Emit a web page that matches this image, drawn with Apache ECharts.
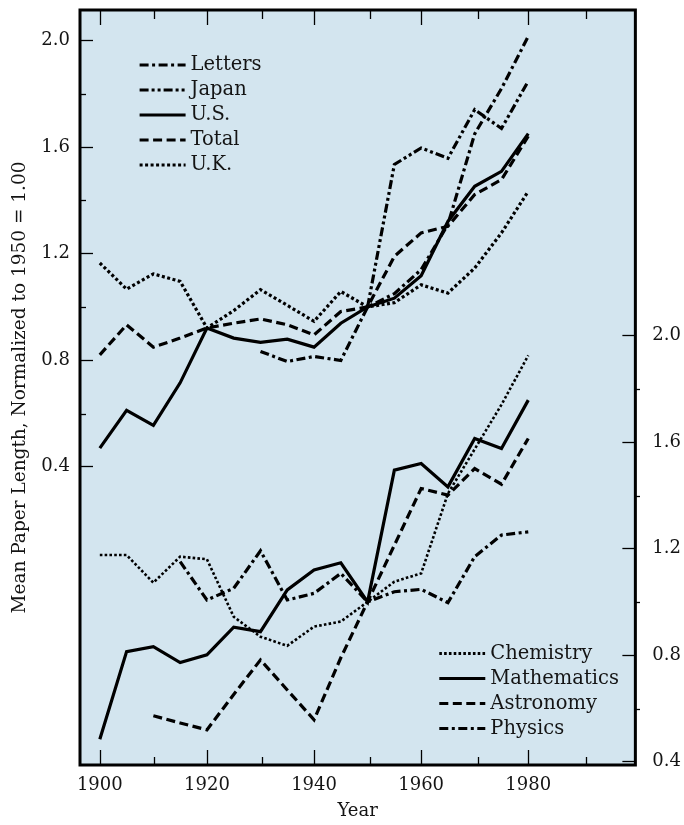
<!DOCTYPE html>
<html>
<head>
<meta charset="utf-8">
<script src="https://cdn.jsdelivr.net/npm/echarts@6/dist/echarts.min.js"></script>
<style>
  html, body { margin: 0; padding: 0; background: #ffffff; }
  #chart { width: 684px; height: 825px; }
</style>
</head>
<body>
<div id="chart"></div>
<script>
// ---- Data ----
const years = [1900,1905,1910,1915,1920,1925,1930,1935,1940,1945,1950,1955,1960,1965,1970,1975,1980];

// Upper group (left axis)
const letters = [null,null,null,null,null,null,0.833,0.795,0.814,0.799,1.0,1.05,1.14,1.31,1.65,1.82,2.016];
const japan   = [null,null,null,null,null,null,null,null,null,null,1.0,1.535,1.597,1.558,1.741,1.670,1.848];
const us      = [0.47,0.612,0.555,0.715,0.921,0.883,0.867,0.879,0.849,0.939,1.0,1.033,1.117,1.321,1.453,1.509,1.651];
const total   = [0.820,0.933,0.849,0.883,0.921,0.939,0.955,0.933,0.895,0.983,1.0,1.19,1.278,1.303,1.422,1.478,1.641];
const uk      = [1.165,1.067,1.124,1.096,0.921,0.986,1.065,1.006,0.946,1.058,1.0,1.016,1.083,1.052,1.146,1.278,1.434];

// Lower group (right axis)
const chemistry   = [1.176,1.176,1.072,1.170,1.160,0.944,0.869,0.835,0.907,0.926,1.0,1.076,1.107,1.407,1.574,1.741,1.926];
const mathematics = [0.484,0.813,0.832,0.772,0.801,0.905,0.888,1.045,1.120,1.147,1.0,1.495,1.520,1.432,1.614,1.576,1.758];
const astronomy   = [null,null,0.572,0.545,0.519,0.652,0.782,0.669,0.557,0.790,1.0,1.213,1.426,1.401,1.501,1.442,1.614];
const physics     = [null,null,null,1.151,1.007,1.051,1.192,1.007,1.032,1.107,1.0,1.038,1.047,0.997,1.170,1.251,1.263];

// Tick positions / labels
const xLabelTicks = [1900,1920,1940,1960,1980];
const xMinorTicks = [1910,1930,1950,1970,1990];
const yLabelTicks = [0.4,0.8,1.2,1.6,2.0];
const yMinorTicks = [0.6,1.0,1.4,1.8];

const upperNames = ['Letters','Japan','U.S.','Total','U.K.'];
const lowerNames = ['Chemistry','Mathematics','Astronomy','Physics'];

// ---- Chart ----
const FONT = 'DejaVu Serif';
const INK = '#141414';
const chart = echarts.init(document.getElementById('chart'), null, { renderer: 'canvas' });

function pairs(vals) {
  const out = [];
  vals.forEach((v, i) => { if (v !== null) out.push([years[i], v]); });
  return out;
}
function line(name, vals, yIdx, dash, width) {
  return {
    name: name, type: 'line', xAxisIndex: 0, yAxisIndex: yIdx,
    data: pairs(vals), symbol: 'none', showSymbol: false, silent: true,
    lineStyle: { color: '#000', width: width || 3.2, type: dash, cap: 'butt', join: 'miter' },
    itemStyle: { color: '#000' },
    animation: false
  };
}

const X_MIN = 1896.3, X_MAX = 2000;
const L_MIN = -0.72, L_MAX = 2.115;
const R_MIN = 0.387, R_MAX = 3.224;

function xAx(grid, pos, ticks, len, labels, extra) {
  return Object.assign({
    type: 'value', gridIndex: grid, position: pos, min: X_MIN, max: X_MAX,
    axisLine: { show: false, onZero: false },
    splitLine: { show: false },
    axisTick: { show: true, inside: true, length: len, customValues: ticks, lineStyle: { color: '#000', width: 1.3 } },
    axisLabel: labels ? { show: true, customValues: labels, fontFamily: FONT, fontSize: 18, color: INK, margin: 11, formatter: v => String(Math.round(v)) } : { show: false }
  }, extra || {});
}
function yAx(grid, pos, min, max, ticks, len, labels, extra) {
  return Object.assign({
    type: 'value', gridIndex: grid, position: pos, min: min, max: max,
    axisLine: { show: false, onZero: false },
    splitLine: { show: false },
    axisTick: { show: true, inside: true, length: len, customValues: ticks, lineStyle: { color: '#000', width: 1.3 } },
    axisLabel: labels ? { show: true, customValues: labels, fontFamily: FONT, fontSize: 18, color: INK, margin: pos === 'left' ? 10 : 17, formatter: v => v.toFixed(1) } : { show: false }
  }, extra || {});
}

const legendCommon = {
  orient: 'vertical', itemWidth: 46, itemHeight: 18, itemGap: 5, selectedMode: false,
  itemStyle: { opacity: 0 },
  lineStyle: { width: 3.2 },
  textStyle: { fontFamily: FONT, fontSize: 19.5, color: INK, padding: [0, 0, 0, 0] }
};

const gridBox = { left: 80, right: 44, top: 10, bottom: 59 };

const option = {
  backgroundColor: '#ffffff',
  animation: false,
  grid: [
    Object.assign({ show: true, backgroundColor: '#d3e5ef', borderColor: '#000', borderWidth: 3 }, gridBox),
    Object.assign({ show: false }, gridBox)
  ],
  xAxis: [
    xAx(0, 'bottom', xLabelTicks, 15, xLabelTicks, {
      name: 'Year', nameLocation: 'middle', nameGap: 37,
      nameTextStyle: { fontFamily: FONT, fontSize: 18, color: INK }
    }),
    xAx(0, 'top', xLabelTicks, 15, null),
    xAx(1, 'bottom', xMinorTicks, 9, null),
    xAx(1, 'top', xMinorTicks, 9, null)
  ],
  yAxis: [
    yAx(0, 'left', L_MIN, L_MAX, yLabelTicks, 13, yLabelTicks, {
      name: 'Mean Paper Length, Normalized to 1950 = 1.00', nameLocation: 'middle', nameGap: 50,
      nameTextStyle: { fontFamily: FONT, fontSize: 18.5, color: INK }
    }),
    yAx(0, 'right', R_MIN, R_MAX, yLabelTicks, 13, yLabelTicks),
    yAx(1, 'left', L_MIN, L_MAX, yMinorTicks, 6, null),
    yAx(1, 'right', R_MIN, R_MAX, yMinorTicks, 6, null)
  ],
  legend: [
    Object.assign({ data: upperNames, left: 133, top: 50 }, legendCommon),
    Object.assign({ data: lowerNames, left: 432.7, top: 638.5 }, legendCommon)
  ],
  series: [
    line('Letters', letters, 0, [9, 3.5, 3, 3.5]),
    line('Japan', japan, 0, [9, 3, 3, 3, 3, 3]),
    line('U.S.', us, 0, 'solid'),
    line('Total', total, 0, [9, 4.5]),
    line('U.K.', uk, 0, [3, 2.5]),
    line('Chemistry', chemistry, 1, [2.6, 2.2], 2.6),
    line('Mathematics', mathematics, 1, 'solid'),
    line('Astronomy', astronomy, 1, [9, 4.5]),
    line('Physics', physics, 1, [9, 3.5, 3, 3.5])
  ]
};
chart.setOption(option);
</script>
</body>
</html>
